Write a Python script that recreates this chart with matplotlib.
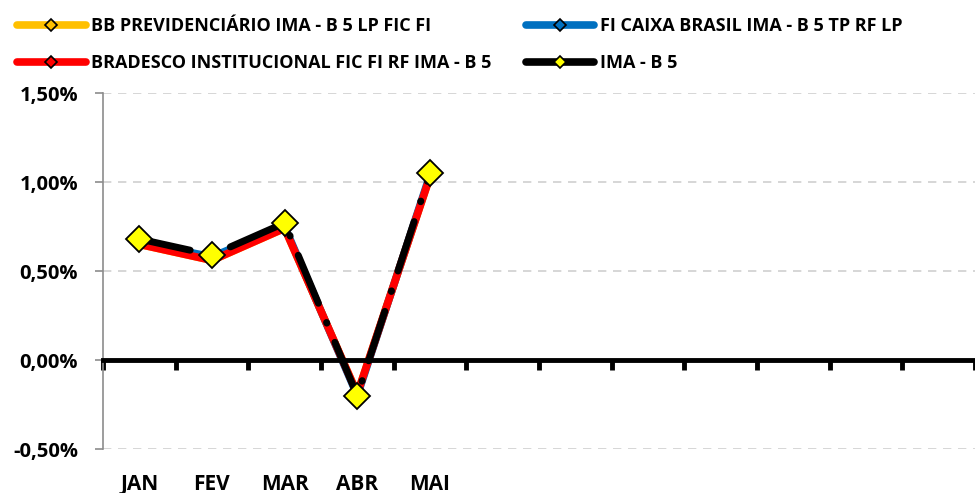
import matplotlib.pyplot as plt
import matplotlib.lines as mlines
import matplotlib.transforms as mtransforms

MESES = ['JAN', 'FEV', 'MAR', 'ABR', 'MAI', '', '', '', '', '', '', '']

# rentabilidade mensal (%)
BB = [0.65, 0.56, 0.74, -0.19, 1.03]
CAIXA = [0.66, 0.58, 0.75, -0.20, 1.04]
BRADESCO = [0.65, 0.56, 0.74, -0.19, 1.03]
IMA_B5 = [0.68, 0.59, 0.77, -0.20, 1.05]

NOMES = ['BB PREVIDENCIÁRIO IMA - B 5 LP FIC FI',
         'FI CAIXA BRASIL IMA - B 5 TP RF LP',
         'BRADESCO INSTITUCIONAL FIC FI RF IMA - B 5',
         'IMA - B 5']

FONTE = 'Open Sans'


def create_figure():
    fig = plt.figure(figsize=(9.75, 4.93), dpi=100)
    ax = fig.add_axes([0.1056, 0.0892, 0.8944, 0.7221])

    ax.set_xlim(-0.5, len(MESES) - 0.5)
    ax.set_ylim(-0.5, 1.5)

    # eixo x passando pelo zero, traços entre categorias
    ax.spines['bottom'].set_position(('data', 0))
    ax.spines['bottom'].set_linewidth(3.5)
    ax.spines['bottom'].set_color('black')
    ax.spines['top'].set_color('none')
    ax.spines['right'].set_color('none')
    ax.spines['left'].set_color('#8c8c8c')
    ax.spines['left'].set_linewidth(1.2)

    ax.set_xticks([i - 0.5 for i in range(len(MESES) + 1)])
    ax.set_xticklabels([])
    ax.tick_params(axis='x', direction='out', length=7, width=3.5, color='black')

    yt = [-0.5, 0, 0.5, 1.0, 1.5]
    ax.set_yticks(yt)
    ax.set_yticklabels([('%.2f%%' % v).replace('.', ',') for v in yt],
                       fontfamily=FONTE, fontweight='bold', fontsize=14.5)
    ax.tick_params(axis='y', direction='out', length=6, width=1.2, color='#8c8c8c', pad=12)
    ax.yaxis.grid(True, color='#d0d0d0', linestyle=(0, (5, 4)), linewidth=1.2)
    ax.set_axisbelow(True)

    # rótulos dos meses no pé do gráfico
    trans = mtransforms.blended_transform_factory(ax.transData, ax.transAxes)
    for i, m in enumerate(MESES):
        ax.text(i, -0.07, m, transform=trans, ha='center', va='top',
                fontfamily=FONTE, fontweight='bold', fontsize=15)
    return fig, ax


def main():
    fig, ax = create_figure()
    x = list(range(len(IMA_B5)))

    ax.plot(x, BB, color='#ffc000', lw=5.5, solid_capstyle='round',
            marker='D', ms=6, mfc='#ffc000', mec='black', mew=1.2, label=NOMES[0])
    ax.plot(x, CAIXA, color='#0070c0', lw=5.5, solid_capstyle='round',
            marker='D', ms=6, mfc='#0070c0', mec='black', mew=1.2, label=NOMES[1])
    ax.plot(x, BRADESCO, color='#ff0000', lw=5.5, solid_capstyle='round',
            marker='D', ms=6, mfc='#ff0000', mec='black', mew=1.2, label=NOMES[2])
    ax.plot(x, IMA_B5, color='black', lw=5, dash_capstyle='round',
            linestyle=(0, (7.5, 3, 0.1, 3)),
            marker='D', ms=13, mfc='#ffff00', mec='black', mew=1.3)

    # legenda com amostra de linha cheia
    h_ima = mlines.Line2D([], [], color='black', lw=5.5, solid_capstyle='round',
                          marker='D', ms=6, mfc='#ffff00', mec='black', mew=1.2)
    handles, labels = ax.get_legend_handles_labels()
    handles = [handles[0], handles[2], handles[1], h_ima]
    labels = [NOMES[0], NOMES[2], NOMES[1], NOMES[3]]
    fig.legend(handles, labels, loc='upper left', bbox_to_anchor=(0.0, 1.0),
               ncol=2, frameon=False, handlelength=3.8, handletextpad=0.3,
               columnspacing=1.9, labelspacing=1.05, borderaxespad=0.55,
               prop={'family': FONTE, 'weight': 'bold', 'size': 13})

    plt.savefig('out.png', dpi=100)


if __name__ == '__main__':
    main()
